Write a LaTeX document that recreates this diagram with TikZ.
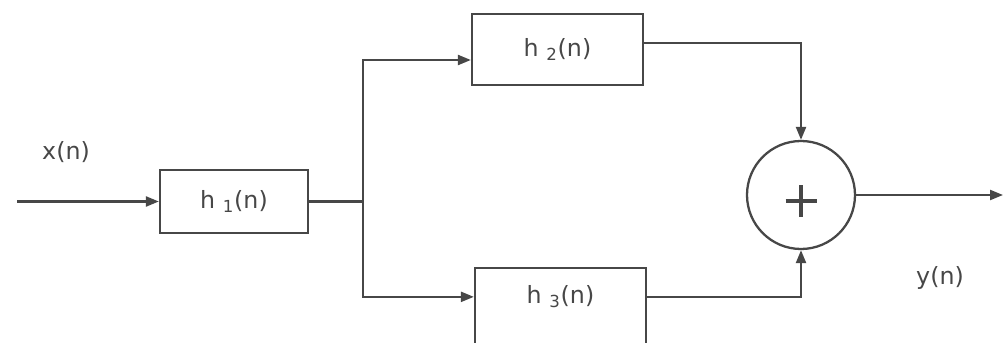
\documentclass[tikz,border=0pt]{standalone}
\usepackage{fontspec}
\setmainfont{DejaVu Sans}
\usetikzlibrary{arrows.meta}
\definecolor{SBlinija}{HTML}{474747}
\colorlet{SBtekst}{SBlinija}

\begin{document}
\begin{tikzpicture}[font=\fontsize{13.5}{15}\selectfont,x=2mm,y=2mm,line width=1.3pt,color=SBlinija,
  >={Triangle[length=2.6mm,width=2mm]},
  blok/.style={draw,rectangle,minimum width=3.42cm,minimum height=1.42cm,inner sep=0pt},
  zbroj/.style={draw,circle,minimum size=2.16cm,inner sep=0pt}]
\useasboundingbox (0,0) rectangle (100.5,34.2);
\clip (0,0) rectangle (100.5,34.2);
\node[blok,minimum width=2.96cm,minimum height=1.26cm] (h1) at (23.4,14.05) {h \textsubscript{1}(n)};
\node[blok] (h2) at (55.75,29.25) {h \textsubscript{2}(n)};
\node[blok,minimum height=1.84cm] (h3) at (56.05,2.8) {};
\node (h3t) at ([yshift=-6mm]h3.north) {h \textsubscript{3}(n)};
\node[zbroj] (sum) at (80.1,14.7) {};
\draw[line width=1.8pt] ([xshift=-3.1mm,yshift=-1.2mm]sum.center) -- ([xshift=3.1mm,yshift=-1.2mm]sum.center)
  ([yshift=2mm]sum.center) -- ([yshift=-4.4mm]sum.center);
\node (xn) at (6.6,19.0) {x(n)};
\node (yn) at (94.0,6.4) {y(n)};
\coordinate (xin) at (1.7,14.05);
\coordinate (grana) at (36.3,14.05);
\coordinate (yout) at (100.3,14.7);
\draw[->] (xin) -- (h1);
\draw (h1) -- (grana);
\draw[->] (grana) |- ([yshift=-2.1mm]h2.west);
\draw[->] (grana) |- (h3.west |- h3t);
\draw[->] ([yshift=1.3mm]h2.east) -| (sum.north);
\draw[->] (h3.east |- h3t) -| (sum.south);
\draw[->] (sum) -- (yout);
\end{tikzpicture}
\end{document}
